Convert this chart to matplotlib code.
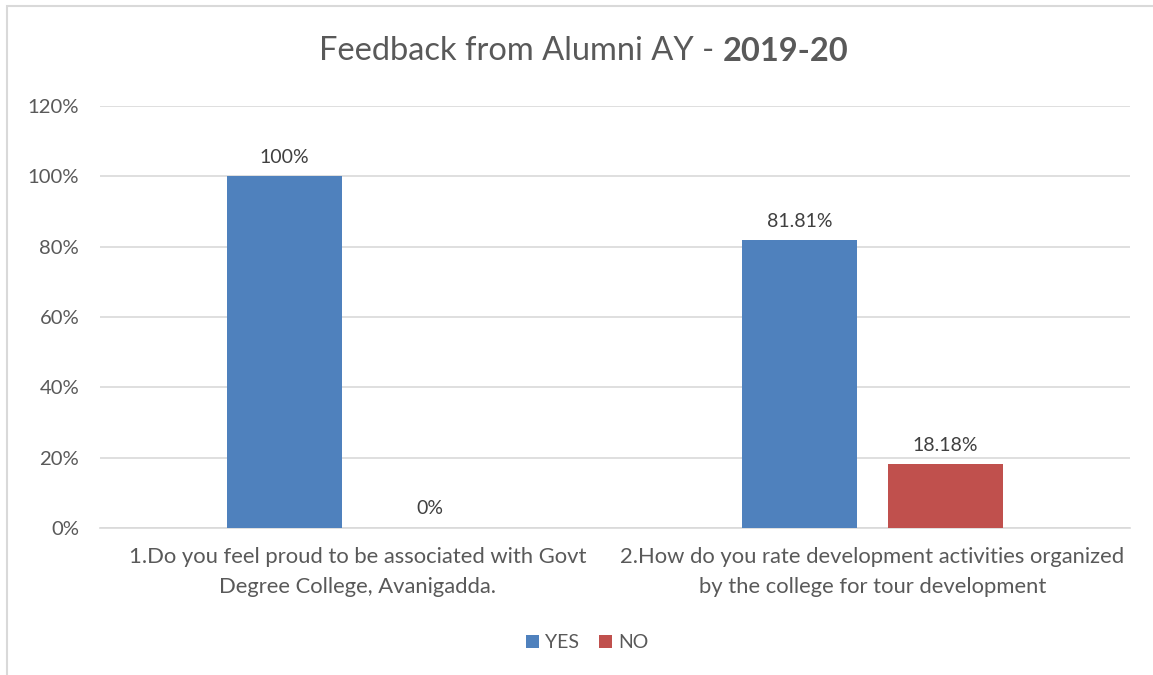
import numpy as np
import matplotlib.pyplot as plt
from matplotlib.patches import Rectangle
from matplotlib.ticker import PercentFormatter

plt.rcParams['font.family'] = ['Lato', 'DejaVu Sans']

categories = ["1.Do you feel proud to be associated with Govt\nDegree College, Avanigadda.",
              "2.How do you rate development activities organized\nby the college for tour development"]
yes_vals = [100, 81.81]
no_vals = [0, 18.18]
yes_labels = ["100%", "81.81%"]
no_labels = ["0%", "18.18%"]

fig = plt.figure(figsize=(11.53, 6.75), dpi=100)
ax = fig.add_axes([0.0867, 0.2178, 0.8933, 0.6252])

# chart border
fig.patches.append(Rectangle((0.006, -0.05), 1.1, 1.041, transform=fig.transFigure,
                             fill=False, edgecolor="#D9D9D9", linewidth=1.5))

x = np.arange(len(categories))
w = 0.223
off = 0.1415
b1 = ax.bar(x - off, yes_vals, w, color="#4F81BD", label="YES", zorder=3)
b2 = ax.bar(x + off, no_vals, w, color="#C0504D", label="NO", zorder=3)

for bars, labs in [(b1, yes_labels), (b2, no_labels)]:
    for bar, lab in zip(bars, labs):
        ax.text(bar.get_x() + bar.get_width() / 2, bar.get_height() + 3, lab,
                ha="center", va="bottom", fontsize=14, color="#404040")

ax.set_xlim(-0.5, 1.5)
ax.set_ylim(0, 120)
ax.set_yticks(np.arange(0, 121, 20))
ax.yaxis.set_major_formatter(PercentFormatter(decimals=0))
ax.set_xticks(x)
ax.set_xticklabels(categories, fontsize=15.8, color="#595959", linespacing=1.6)
ax.tick_params(axis="y", labelsize=14.6, labelcolor="#595959", length=0, pad=15)
ax.tick_params(axis="x", length=0, pad=14)
ax.grid(axis="y", color="#D9D9D9", linewidth=1.2, zorder=0)
for s in ["top", "right", "left"]:
    ax.spines[s].set_visible(False)
ax.spines["bottom"].set_color("#D9D9D9")
ax.spines["bottom"].set_linewidth(1.2)

# title: regular part + bold part, centred together
t1 = fig.text(0, 0.924, "Feedback from Alumni AY - ", ha="left", va="center",
              fontsize=23.5, color="#595959")
t2 = fig.text(0, 0.924, "2019-20", ha="left", va="center",
              fontsize=23.5, color="#595959", fontweight="bold")
r = fig.canvas.get_renderer()
w1 = t1.get_window_extent(r).width / fig.bbox.width
w2 = t2.get_window_extent(r).width / fig.bbox.width
start = 584 / 1153 - (w1 + w2) / 2
t1.set_x(start)
t2.set_x(start + w1)

ax.legend(loc="center", bbox_to_anchor=(0.473, -0.272), ncol=2, frameon=False,
          fontsize=14, labelcolor="#595959", handlelength=0.7, handleheight=0.7,
          handletextpad=0.3, columnspacing=1.0)

fig.savefig("out.png", dpi=100)
